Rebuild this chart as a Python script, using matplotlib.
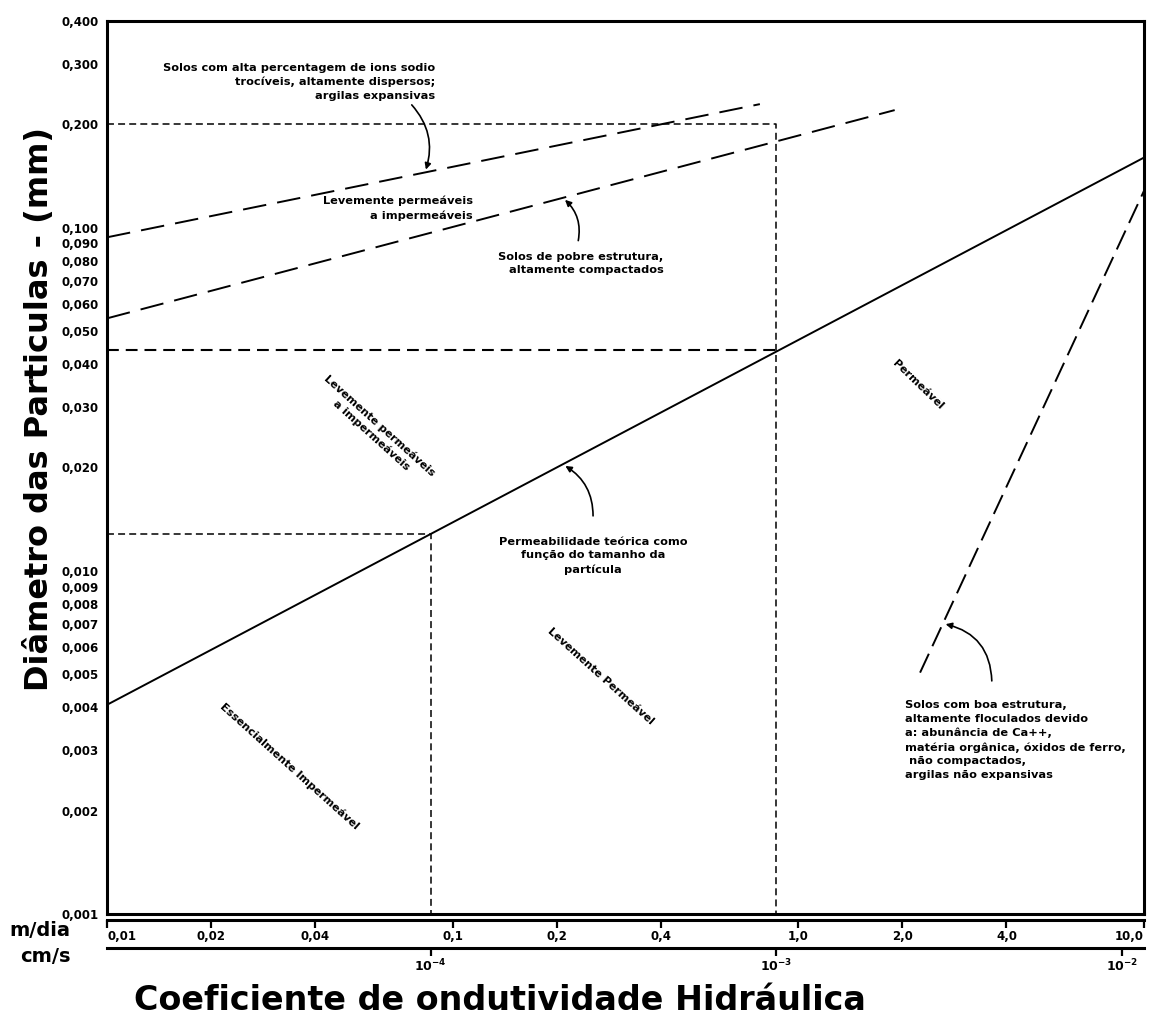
import matplotlib
matplotlib.use("Agg")
import matplotlib.pyplot as plt

plt.rcParams['font.family'] = ['DejaVu Sans']
plt.rcParams['lines.scale_dashes'] = False

## tick values / labels
y_ticks = [0.4, 0.3, 0.2, 0.1, 0.09, 0.08, 0.07, 0.06, 0.05, 0.04, 0.03, 0.02,
           0.01, 0.009, 0.008, 0.007, 0.006, 0.005, 0.004, 0.003, 0.002, 0.001]
y_labels = ['0,400', '0,300', '0,200', '0,100', '0,090', '0,080', '0,070', '0,060',
            '0,050', '0,040', '0,030', '0,020', '0,010', '0,009', '0,008', '0,007',
            '0,006', '0,005', '0,004', '0,003', '0,002', '0,001']

mdia_ticks = [0.01, 0.02, 0.04, 0.1, 0.2, 0.4, 1.0, 2.0, 4.0, 10.0]
mdia_labels = ['0,01', '0,02', '0,04', '0,1', '0,2', '0,4', '1,0', '2,0', '4,0', '10,0']
cms_ticks = [1e-4, 1e-3, 1e-2]
cms_labels = [r'$\mathbf{10^{-4}}$', r'$\mathbf{10^{-3}}$', r'$\mathbf{10^{-2}}$']
cms_to_mdia = 864.0   # 1 cm/s = 864 m/dia

## curves (m/dia, mm)
teorica_x = [0.01, 10.0]
teorica_y = [0.00407, 0.160]
sodio_x = [0.01, 0.774]
sodio_y = [0.0937, 0.229]
pobre_x = [0.01, 1.90]
pobre_y = [0.0544, 0.220]
boa_x = [2.25, 10.0]
boa_y = [0.00505, 0.128]

## guide lines
guia1_x = [0.01, 0.864, 0.864]
guia1_y = [0.2, 0.2, 0.001]
guia2_x = [0.01, 0.864]
guia2_y = [0.044, 0.044]
guia3_x = [0.01, 0.0864, 0.0864]
guia3_y = [0.0128, 0.0128, 0.001]

W, H = 1149, 1023
fig = plt.figure(figsize=(W / 100, H / 100), dpi=100)
L, R = 107 / W, 1144 / W
ax = fig.add_axes([L, 1 - 914 / H, R - L, (914 - 21) / H])
ax.set_xscale('log')
ax.set_yscale('log')
ax.set_xlim(0.01, 10)
ax.set_ylim(0.001, 0.4)
for s in ax.spines.values():
    s.set_linewidth(2.2)

ax.set_yticks(y_ticks)
ax.set_yticklabels(y_labels, fontweight='bold', fontsize=8.5)
ax.set_yticks([], minor=True)
ax.set_xticks([])
ax.set_xticks([], minor=True)
ax.tick_params(axis='y', length=0, pad=6)

## main lines
ax.plot(teorica_x, teorica_y, color='k', lw=1.4)
ax.plot(sodio_x, sodio_y, color='k', lw=1.4, dashes=(17, 8))
ax.plot(pobre_x, pobre_y, color='k', lw=1.4, dashes=(17, 8))
ax.plot(boa_x, boa_y, color='k', lw=1.4, dashes=(15, 6))
ax.plot(guia1_x, guia1_y, color='k', lw=1.1, dashes=(5, 3))
ax.plot(guia2_x, guia2_y, color='k', lw=1.5, dashes=(8.5, 5))
ax.plot(guia3_x, guia3_y, color='k', lw=1.1, dashes=(5, 3))

## annotations
fs = 8.2
ls = 1.45
ax.text(0.0889, 0.2655, 'Solos com alta percentagem de ions sodio\ntrocíveis, altamente dispersos;\nargilas expansivas',
        ha='right', va='center', fontsize=fs, fontweight='bold', multialignment='right', linespacing=ls)
ax.text(0.1146, 0.1138, 'Levemente permeáveis\na impermeáveis',
        ha='right', va='center', fontsize=fs, fontweight='bold', multialignment='right', linespacing=ls)
ax.text(0.235, 0.0787, 'Solos de pobre estrutura,\naltamente compactados',
        ha='center', va='center', fontsize=fs, fontweight='bold', multialignment='right', linespacing=ls)
ax.text(0.2547, 0.01106, 'Permeabilidade teórica como\nfunção do tamanho da\npartícula',
        ha='center', va='center', fontsize=fs, fontweight='bold', multialignment='center', linespacing=ls)
ax.text(2.03, 0.00321, 'Solos com boa estrutura,\naltamente floculados devido\na: abunância de Ca++,\n'
        'matéria orgânica, óxidos de ferro,\n não compactados,\nargilas não expansivas',
        ha='left', va='center', fontsize=fs, fontweight='bold', multialignment='left', linespacing=ls)

rfs = 8
ax.text(0.0596, 0.02565, 'Levemente permeáveis\na impermeáveis', rotation=-42,
        ha='center', va='center', fontsize=rfs, fontweight='bold', rotation_mode='anchor')
ax.text(0.0338, 0.00269, 'Essencialmente Impermeável', rotation=-42,
        ha='center', va='center', fontsize=rfs, fontweight='bold', rotation_mode='anchor')
ax.text(0.2685, 0.00494, 'Levemente Permeável', rotation=-42,
        ha='center', va='center', fontsize=rfs, fontweight='bold', rotation_mode='anchor')
ax.text(2.22, 0.0349, 'Permeável', rotation=-44,
        ha='center', va='center', fontsize=rfs, fontweight='bold', rotation_mode='anchor')

arrow = dict(arrowstyle='-|>', color='k', lw=1.2, mutation_scale=9)
ax.annotate('', xy=(0.0832, 0.145), xytext=(0.0752, 0.231),
            arrowprops=dict(arrow, connectionstyle='arc3,rad=-0.3'))
ax.annotate('', xy=(0.2085, 0.122), xytext=(0.230, 0.0900),
            arrowprops=dict(arrow, connectionstyle='arc3,rad=0.3'))
ax.annotate('', xy=(0.2085, 0.0204), xytext=(0.2547, 0.01419),
            arrowprops=dict(arrow, connectionstyle='arc3,rad=0.3'))
ax.annotate('', xy=(2.62, 0.00702), xytext=(3.63, 0.00469),
            arrowprops=dict(arrow, connectionstyle='arc3,rad=0.4'))

## m/dia and cm/s scales
ax_m = fig.add_axes([L, 1 - 920 / H, R - L, 0.0001])
ax_c = fig.add_axes([L, 1 - 948 / H, R - L, 0.0001])
for a in (ax_m, ax_c):
    a.set_xscale('log')
    a.set_xlim(0.01, 10)
    a.patch.set_visible(False)
    for k in ('top', 'left', 'right'):
        a.spines[k].set_visible(False)
    a.spines['bottom'].set_linewidth(2.2)
    a.set_yticks([])
    a.set_xticks([], minor=True)
    a.tick_params(axis='x', direction='out', length=6, width=1.6, pad=1)

ax_m.set_xticks(mdia_ticks)
ax_m.set_xticklabels(mdia_labels, fontsize=8.5, fontweight='bold')
lbls = ax_m.get_xticklabels()
lbls[0].set_ha('left')
lbls[-1].set_ha('right')

ax_c.set_xticks([t * cms_to_mdia for t in cms_ticks])
ax_c.set_xticklabels(cms_labels, fontsize=9)
ax_c.set_xticks([], minor=True)

fig.text(40 / W, 1 - 930 / H, 'm/dia', ha='center', va='center', fontsize=14, fontweight='bold')
fig.text(45 / W, 1 - 956 / H, 'cm/s', ha='center', va='center', fontsize=14, fontweight='bold')

fig.text(40 / W, 1 - 409 / H, 'Diâmetro das Particulas - (mm)', rotation=90,
         ha='center', va='center', fontsize=23, fontweight='bold')
fig.text(500 / W, 1 - 1000 / H, 'Coeficiente de ondutividade Hidráulica',
         ha='center', va='center', fontsize=24, fontweight='bold')

fig.savefig('out.png', dpi=100)
